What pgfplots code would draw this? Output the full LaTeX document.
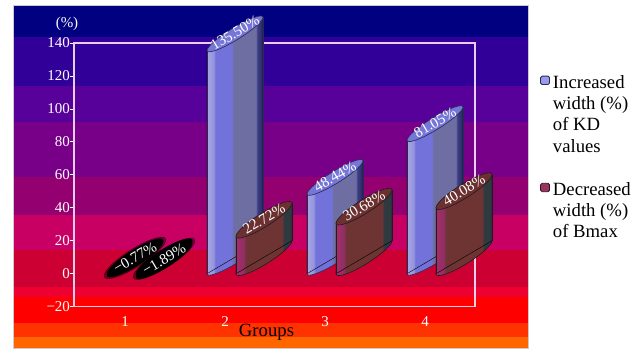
\documentclass[border=0pt]{standalone}
\usepackage{pgfplots}
\usepackage{pgfplotstable}
\pgfplotsset{compat=1.18}
\usepackage{fontspec}
\setmainfont{Liberation Serif}

\definecolor{b1}{HTML}{000080}
\definecolor{b2}{HTML}{300099}
\definecolor{b3}{HTML}{58009A}
\definecolor{b4}{HTML}{780088}
\definecolor{b5}{HTML}{940070}
\definecolor{b6}{HTML}{C80064}
\definecolor{b7}{HTML}{CC0033}
\definecolor{b8}{HTML}{EE0030}
\definecolor{b9}{HTML}{FF0000}
\definecolor{b10}{HTML}{FF3300}
\definecolor{b11}{HTML}{FF6600}
\definecolor{framecol}{RGB}{232,205,236}

\definecolor{blueL}{HTML}{A6A6E2}
\definecolor{blueL2}{HTML}{9494DE}
\definecolor{blueM}{HTML}{7272DA}
\definecolor{blueG}{HTML}{6E6EA2}
\definecolor{blueD}{HTML}{3C3C88}
\definecolor{blueE}{HTML}{262660}
\definecolor{blueCap}{HTML}{7676D8}
\definecolor{blueO}{HTML}{2A2A50}
\definecolor{legBlue}{HTML}{9A9AEA}

\definecolor{brL}{HTML}{A82C6C}
\definecolor{brL2}{HTML}{8E2E62}
\definecolor{brM}{HTML}{6E3434}
\definecolor{brD}{HTML}{2E3A40}
\definecolor{brCap}{HTML}{6C3030}
\definecolor{brO}{HTML}{1E1E1E}
\definecolor{legBr}{HTML}{A03060}

\pgfdeclarehorizontalshading{shBlue}{100bp}{color(0bp)=(blueL); color(25bp)=(blueL); color(31bp)=(blueL2); color(32.5bp)=(blueM); color(47bp)=(blueM); color(48.5bp)=(blueG); color(68.5bp)=(blueG); color(70bp)=(blueD); color(75bp)=(blueE); color(100bp)=(blueE)}
\pgfdeclarehorizontalshading{shBrown}{100bp}{color(0bp)=(brL); color(25bp)=(brL); color(32bp)=(brL2); color(34bp)=(brM); color(66bp)=(brM); color(68bp)=(brD); color(75bp)=(brD); color(100bp)=(brD)}

% cylinder: left top corner at the data point, caps rise 33bp over the 56bp width
\pgfdeclareplotmark{cylBlue}{%
  \pgfmathsetmacro\hh{\yv*1.648}%
  \pgfmathsetmacro\hb{16.5-\hh}%
  \pgfmathsetmacro\hr{33-\hh}%
  \path[shading=shBlue,draw=blueO,line width=0.6bp] \pgfextra{\pgfpathellipse{\pgfpoint{0bp}{\hb bp}}{\pgfpoint{28bp}{16.5bp}}{\pgfpoint{0bp}{7bp}}};
  \path[shading=shBlue] (-28bp,-\hh bp) -- (-28bp,0bp) -- (28bp,33bp) -- (28bp,\hr bp) -- cycle;
  \draw[blueO,line width=0.6bp] (-28bp,-\hh bp) -- (-28bp,0bp) (28bp,33bp) -- (28bp,\hr bp);
  \path[fill=blueCap,draw=blueO,line width=0.6bp] \pgfextra{\pgfpathellipse{\pgfpoint{0bp}{16.5bp}}{\pgfpoint{28bp}{16.5bp}}{\pgfpoint{0bp}{7bp}}};
}
\pgfdeclareplotmark{cylBrown}{%
  \pgfmathsetmacro\hh{\yv*1.648}%
  \pgfmathsetmacro\hb{16.5-\hh}%
  \pgfmathsetmacro\hr{33-\hh}%
  \path[shading=shBrown,draw=brO,line width=0.6bp] \pgfextra{\pgfpathellipse{\pgfpoint{0bp}{\hb bp}}{\pgfpoint{28bp}{16.5bp}}{\pgfpoint{0bp}{8bp}}};
  \path[shading=shBrown] (-28bp,-\hh bp) -- (-28bp,0bp) -- (28bp,33bp) -- (28bp,\hr bp) -- cycle;
  \draw[brO,line width=0.6bp] (-28bp,-\hh bp) -- (-28bp,0bp) (28bp,33bp) -- (28bp,\hr bp);
  \path[fill=brCap,draw=brO,line width=0.6bp] \pgfextra{\pgfpathellipse{\pgfpoint{0bp}{16.5bp}}{\pgfpoint{28bp}{16.5bp}}{\pgfpoint{0bp}{8bp}}};
}
\pgfdeclareplotmark{cylBlack}{%
  \pgfmathsetmacro\hh{\yv*1.648}%
  \pgfmathsetmacro\hb{16.5-\hh}%
  \pgfmathsetmacro\hm{16.5-0.5*\hh}%
  \pgfmathsetmacro\hr{33-\hh}%
  \path[fill=black,opacity=0.45] \pgfextra{\pgfpathellipse{\pgfpoint{0bp}{\hm bp}}{\pgfpoint{31bp}{18bp}}{\pgfpoint{0bp}{10.5bp}}};
  \path[fill=black] \pgfextra{\pgfpathellipse{\pgfpoint{0bp}{\hb bp}}{\pgfpoint{28bp}{16.5bp}}{\pgfpoint{0bp}{8.5bp}}};
  \path[fill=black] (-28bp,-\hh bp) -- (-28bp,0bp) -- (28bp,33bp) -- (28bp,\hr bp) -- cycle;
  \path[fill=black] \pgfextra{\pgfpathellipse{\pgfpoint{0bp}{16.5bp}}{\pgfpoint{28bp}{16.5bp}}{\pgfpoint{0bp}{8.5bp}}};
}

\pgfplotstableread{
x y lab
2.10 135.50 135.50
3.10 48.44 48.44
4.10 81.05 81.05
}\tabBlue
\pgfplotstableread{
x y lab
2.39 22.72 22.72
3.39 30.68 30.68
4.39 40.08 40.08
}\tabBrown
\pgfplotstableread{
x y lab
1.10 -0.77 −0.77
1.39 -1.89 −1.89
}\tabNeg

\begin{document}
\begin{tikzpicture}
\useasboundingbox (0,0) rectangle (638bp,-352bp);
\fill[white] (0,0) rectangle (638bp,-352bp);
% background panel bands
\fill[b1]  (13bp,-5bp)   rectangle (528bp,-37bp);
\fill[b2]  (13bp,-37bp)  rectangle (528bp,-86bp);
\fill[b3]  (13bp,-86bp)  rectangle (528bp,-122bp);
\fill[b4]  (13bp,-122bp) rectangle (528bp,-177bp);
\fill[b5]  (13bp,-177bp) rectangle (528bp,-215bp);
\fill[b6]  (13bp,-215bp) rectangle (528bp,-250bp);
\fill[b7]  (13bp,-250bp) rectangle (528bp,-287bp);
\fill[b8]  (13bp,-287bp) rectangle (528bp,-297bp);
\fill[b9]  (13bp,-297bp) rectangle (528bp,-323bp);
\fill[b10] (13bp,-323bp) rectangle (528bp,-337bp);
\fill[b11] (13bp,-337bp) rectangle (528bp,-348bp);
\draw[gray!40,line width=0.6bp] (13bp,-5bp) rectangle (528bp,-348bp);

\begin{axis}[
  at={(74bp,-306.7bp)}, anchor=south west,
  scale only axis, width=401bp, height=263.7bp,
  xmin=0.49, xmax=4.5, ymin=-20, ymax=140,
  clip=false,
  axis line style={draw=framecol, line width=1.2bp},
  xtick={1,2,3,4}, xticklabels={1,2,3,4},
  ytick={-20,0,20,40,60,80,100,120,140},
  yticklabels={−20,0,20,40,60,80,100,120,140},
  tick align=outside, ytick pos=left, xtick pos=bottom,
  x tick style={draw=none},
  y tick style={draw=white, line width=0.8bp},
  major tick length=3.5bp,
  ticklabel style={text=white, font=\fontsize{15bp}{15bp}\selectfont},
  xticklabel style={yshift=-3bp},
  yticklabel style={xshift=3bp},
  legend style={at={(rel axis cs:1.162,0.886)}, anchor=north west,
    draw=none, fill=none, inner sep=0pt,
    font=\fontsize{18.7bp}{21.3bp}\selectfont, text=black,
    cells={align=left, anchor=base west}, row sep=24.5bp, column sep=1bp},
]
\addlegendimage{legend image code/.code={\draw[fill=legBlue,draw=blueO,rounded corners=1.5bp,line width=0.8bp] (0bp,67.6bp) rectangle (9bp,76bp);}}
\addlegendentry{Increased\\width (\%)\\of KD\\values}
\addlegendimage{legend image code/.code={\draw[fill=legBr,draw=brO,rounded corners=1.5bp,line width=0.8bp] (0bp,46bp) rectangle (9bp,54.4bp);}}
\addlegendentry{Decreased\\width (\%)\\of Bmax}

\addplot[forget plot, only marks, mark=cylBlue,
  visualization depends on={\thisrow{y} \as \yv},
  point meta=explicit symbolic,
  nodes near coords={\pgfplotspointmeta\%},
  every node near coord/.append style={anchor=center, yshift=17.5bp, rotate=30.5, text=white, inner sep=0pt,
     font=\fontsize{15bp}{15bp}\selectfont}]
  table[x=x, y=y, meta=lab] {\tabBlue};
\addplot[forget plot, only marks, mark=cylBrown,
  visualization depends on={\thisrow{y} \as \yv},
  point meta=explicit symbolic,
  nodes near coords={\pgfplotspointmeta\%},
  every node near coord/.append style={anchor=center, yshift=17.5bp, rotate=30.5, text=white, inner sep=0pt,
     font=\fontsize{15bp}{15bp}\selectfont}]
  table[x=x, y=y, meta=lab] {\tabBrown};
\addplot[forget plot, only marks, mark=cylBlack,
  visualization depends on={\thisrow{y} \as \yv},
  point meta=explicit symbolic,
  nodes near coords={\pgfplotspointmeta\%},
  every node near coord/.append style={anchor=center, yshift=17.5bp, rotate=30.5, text=white, inner sep=0pt,
     font=\fontsize{15bp}{15bp}\selectfont}]
  table[x=x, y=y, meta=lab] {\tabNeg};
\end{axis}

\node[text=white, font=\fontsize{15bp}{15bp}\selectfont] at (67bp,-24bp) {(\%)};
\node[anchor=base, text=black, font=\fontsize{18.7bp}{18.7bp}\selectfont] at (266.5bp,-336.7bp) {Groups};
\end{tikzpicture}
\end{document}
